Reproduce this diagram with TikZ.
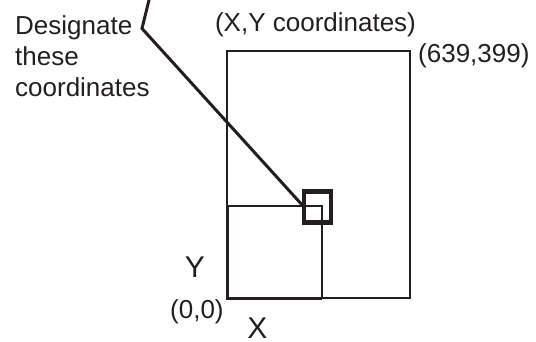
\documentclass[tikz,border=0pt]{standalone}
\usepackage{fontspec}
\setmainfont{Liberation Sans}
\definecolor{ink}{HTML}{231F20}
\begin{document}
\begin{tikzpicture}[x=1pt,y=-1pt,
  lbl/.style={inner sep=0pt, text=ink, font=\fontsize{26}{31}\selectfont},
  biglbl/.style={inner sep=0pt, text=ink, font=\fontsize{30}{36}\selectfont},
  thinline/.style={draw=ink, line width=2pt},
  thickline/.style={draw=ink, line width=3pt},
  marker/.style={draw=ink, line width=4.8pt, minimum width=27pt, minimum height=30.5pt, inner sep=0pt, outer sep=0pt},
  leader/.style={draw=ink, line width=3pt, line join=miter}]
\useasboundingbox (0,0) rectangle (536,342);
% corners of the screen
\coordinate (O) at (227,298);
\coordinate (TL) at (227,51);
\coordinate (TR) at (410,51);
\coordinate (BR) at (410,298);
\coordinate (P) at (321.7,206);
\coordinate (Pl) at (227,206);
\coordinate (Pb) at (321.7,298);
% outer screen
\draw[thinline] (O) -- (TL) -- (TR) -- (BR) -- (O);
% sub rectangle to point
\draw[thinline] (Pl) -- (P) -- (Pb);
\draw[thickline] (Pl) -- (O) -- (Pb);
% marker square
\node[marker] (sq) at (317.5,207) {};
% leader
\coordinate (top) at (150,-4);
\coordinate (bend) at (142,28.5);
\draw[leader] (top) -- (bend) -- (sq.west);
% labels
\node[lbl, anchor=base west, align=left] (desig) at (15,97) {Designate\\these\\coordinates};
\node[lbl, anchor=base] (xy) at (315.5,31.7) {(X,Y coordinates)};
\node[lbl, anchor=base west] (tr) at (418,63) {(639,399)};
\node[lbl, anchor=base west] (orig) at (170,318.5) {(0,0)};
\node[biglbl, anchor=base] (ylbl) at (195,277.3) {Y};
\node[biglbl, anchor=base] (xlbl) at (257.5,338.5) {X};
\end{tikzpicture}
\end{document}
